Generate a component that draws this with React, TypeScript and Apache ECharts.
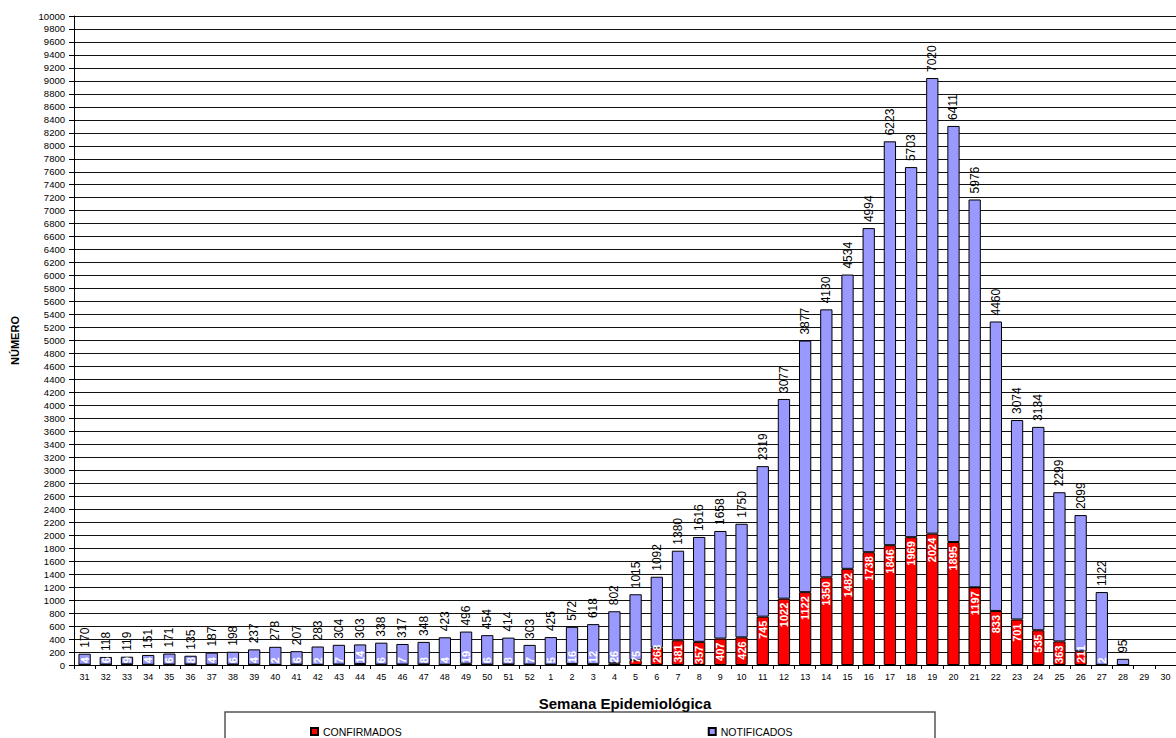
import React, { useEffect, useRef } from "react";
import * as echarts from "echarts";

const weeks = [
  "31", "32", "33", "34", "35", "36", "37", "38", "39", "40", "41", "42", "43", "44", "45", "46", "47", "48", "49", "50", "51", "52",
  "1", "2", "3", "4", "5", "6", "7", "8", "9", "10", "11", "12", "13", "14", "15", "16", "17", "18", "19", "20",
  "21", "22", "23", "24", "25", "26", "27", "28", "29", "30",
];

const confirmados: (number | null)[] = [
  4, 6, 9, 4, 6, 8, 4, 6, 4, 2, 6, 2, 7, 14, 6, 7, 8, 4, 19, 6, 8, 7,
  5, 16, 12, 26, 75, 268, 381, 357, 407, 426, 745, 1022, 1122, 1350, 1482, 1738, 1846, 1969, 2024, 1895,
  1197, 833, 701, 535, 363, 211, 2, 0, null, null,
];

const notificados: (number | null)[] = [
  170, 118, 119, 151, 171, 135, 187, 198, 237, 278, 207, 283, 304, 303, 338, 317, 348, 423, 496, 454, 414, 303,
  425, 572, 618, 802, 1015, 1092, 1380, 1616, 1658, 1750, 2319, 3077, 3877, 4130, 4534, 4994, 6223, 5703, 7020, 6411,
  5976, 4460, 3074, 3134, 2299, 2099, 1122, 95, null, null,
];

const FONT = "'Liberation Sans', Arial, sans-serif";

export default function App() {
  const ref = useRef<HTMLDivElement>(null);

  useEffect(() => {
    if (!ref.current) return;
    const chart = echarts.init(ref.current, null, { renderer: "svg" });

    const confData = confirmados.map((v) => {
      if (v === null) return null;
      if (v === 0) return { value: v, label: { show: false } };
      if (v < 300) {
        return {
          value: v,
          label: { position: "insideBottom", align: "left", distance: 2 },
        };
      }
      return v;
    });

    chart.setOption({
      animation: false,
      backgroundColor: "#ffffff",
      textStyle: { fontFamily: FONT },
      grid: { left: 74, right: -6, top: 16, bottom: 73, containLabel: false },
      legend: {
        left: 305,
        top: 721,
        itemWidth: 7,
        itemHeight: 7,
        itemGap: 306,
        icon: "rect",
        textStyle: { fontSize: 10.5, color: "#000", fontFamily: FONT },
        data: ["CONFIRMADOS", "NOTIFICADOS"],
      },
      graphic: [
        {
          type: "rect",
          shape: { x: 225, y: 712, width: 710, height: 40 },
          style: { fill: "none", stroke: "#555", lineWidth: 1.5 },
          silent: true,
        },
      ],
      xAxis: {
        type: "category",
        data: weeks,
        name: "Semana Epidemiológica",
        nameLocation: "middle",
        nameGap: 31,
        nameTextStyle: { fontSize: 15, fontWeight: "bold", color: "#000", fontFamily: FONT },
        axisLine: { lineStyle: { color: "#000", width: 1 } },
        axisTick: { show: true, length: 4, lineStyle: { color: "#000" } },
        axisLabel: { interval: 0, fontSize: 9, color: "#000", margin: 7, fontFamily: FONT },
        splitLine: { show: false },
      },
      yAxis: {
        type: "value",
        min: 0,
        max: 10000,
        interval: 200,
        name: "NÚMERO",
        nameLocation: "middle",
        nameGap: 54,
        nameRotate: 90,
        nameTextStyle: { fontSize: 11, fontWeight: "bold", color: "#000", fontFamily: FONT },
        axisLine: { show: true, lineStyle: { color: "#000", width: 1 } },
        axisTick: { show: true, length: 5, lineStyle: { color: "#000" } },
        axisLabel: {
          fontSize: 9.5,
          color: "#000",
          margin: 9,
          fontFamily: FONT,
          formatter: (v: number) => String(v),
        },
        splitLine: { show: true, lineStyle: { color: "#111", width: 1 } },
      },
      series: [
        {
          name: "CONFIRMADOS",
          type: "bar",
          stack: "total",
          barWidth: "58%",
          data: confData,
          itemStyle: { color: "#FF0000", borderColor: "#000", borderWidth: 1 },
          label: {
            show: true,
            position: "insideTop",
            distance: 4,
            rotate: 90,
            align: "right",
            verticalAlign: "middle",
            color: "#fff",
            fontSize: 11,
            fontWeight: "bold",
            fontFamily: FONT,
          },
        },
        {
          name: "NOTIFICADOS",
          type: "bar",
          stack: "total",
          barWidth: "58%",
          data: notificados,
          itemStyle: { color: "#9999FF", borderColor: "#000", borderWidth: 1 },
          label: {
            show: true,
            position: "top",
            distance: 6,
            rotate: 90,
            align: "left",
            verticalAlign: "middle",
            color: "#000",
            fontSize: 12,
            fontFamily: FONT,
          },
        },
      ],
    });

    return () => chart.dispose();
  }, []);

  return (
    <div
      ref={ref}
      style={{ position: "fixed", left: 0, top: 0, width: 1176, height: 738, background: "#fff" }}
    />
  );
}
